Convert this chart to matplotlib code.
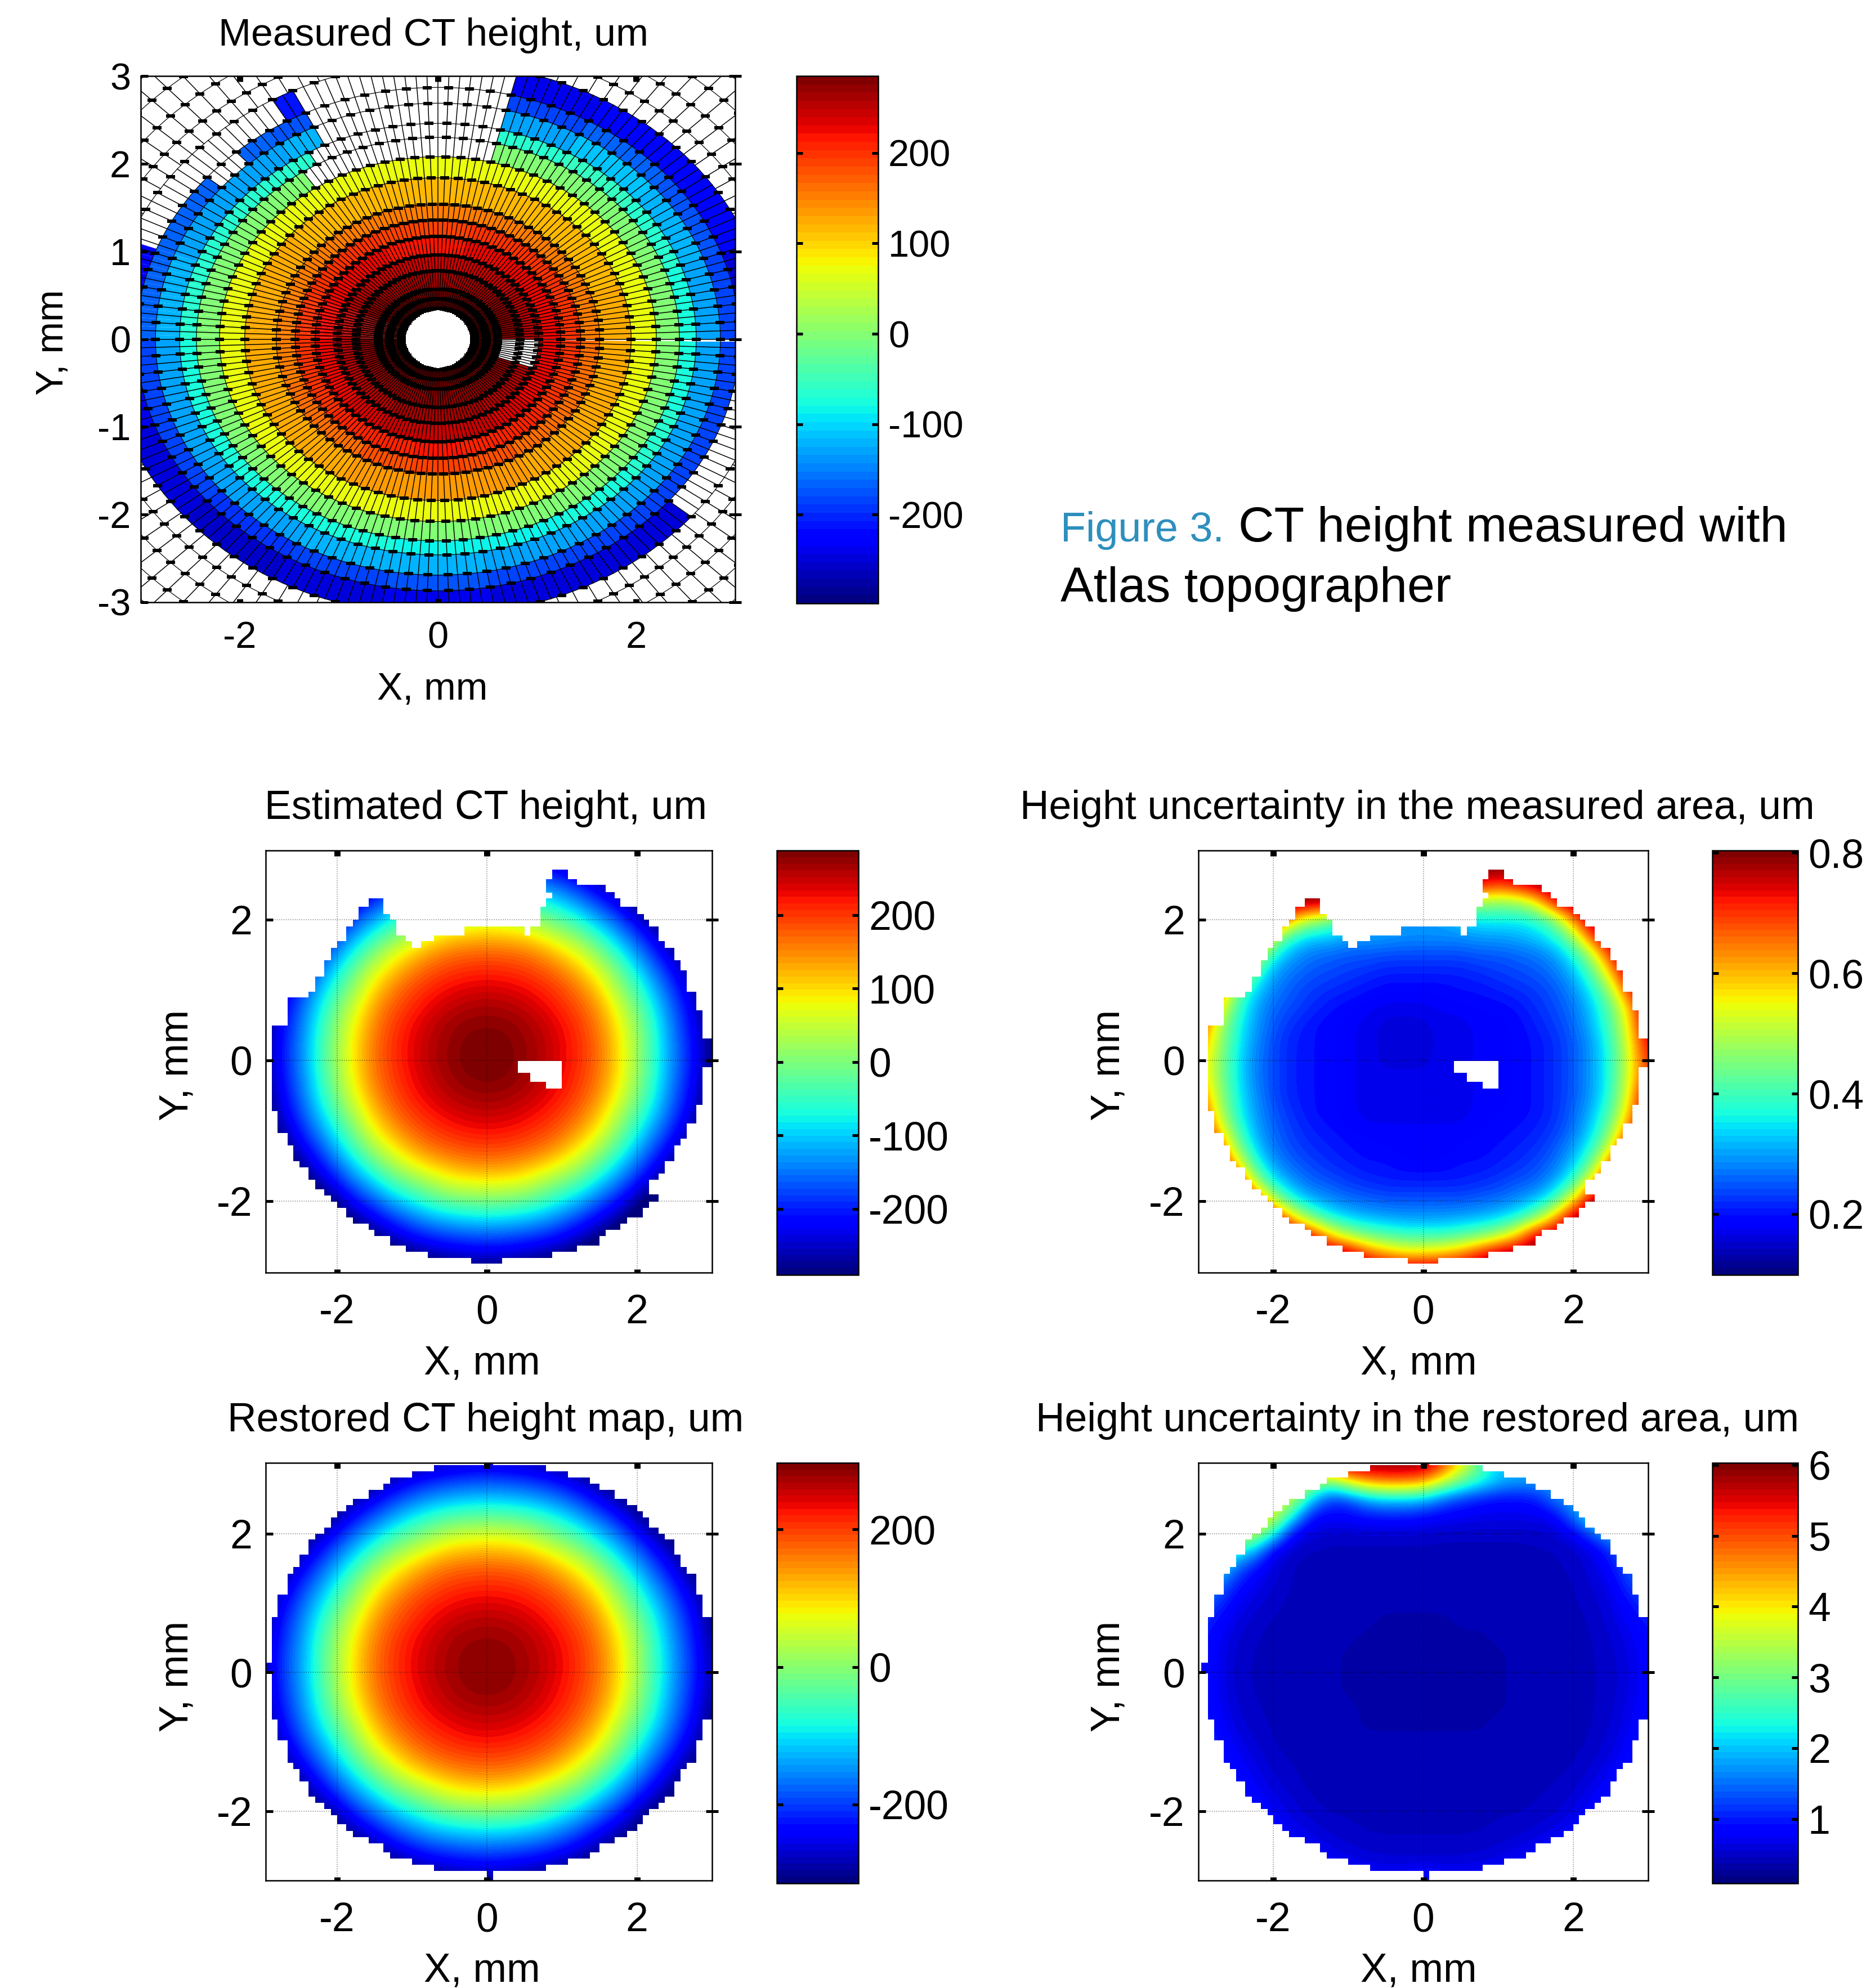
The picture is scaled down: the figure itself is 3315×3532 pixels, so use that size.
import numpy as np
import matplotlib
matplotlib.use("Agg")
import matplotlib.pyplot as plt
from matplotlib.cm import ScalarMappable
from matplotlib.colors import Normalize
from matplotlib.patches import PathPatch
from matplotlib.path import Path


# -----------------------------
# Top panel: polar mesh values, read ring by ring
# -----------------------------
RING_RADII = [0.35, 0.46, 0.57, 0.78, 0.96, 1.17, 1.36, 1.54, 1.84, 2.08,
              2.30, 2.46, 2.69, 2.87, 3.15]
OUTER_RINGS = [3.35, 3.60, 3.85, 4.10, 4.35]
SECTOR_EDGES = [0, 20, 40, 60, 76, 100, 116, 120, 124, 132, 140, 159, 180, 200,
                220, 240, 260, 280, 300, 320, 340, 359.4]
nan = float("nan")
RING_HEIGHTS = [
    [284, 278, 268, 250, 226, 197, 157, 122, 72, 0, -72, -125, -185, -245],
    [284, 278, 268, 250, 226, 195, 155, 120, 70, 0, -65, -120, -175, -225],
    [284, 278, 266, 248, 224, 195, 155, 120, 70, -5, -60, -115, -165, -225],
    [284, 278, 266, 246, 222, 195, 155, 120, 68, -5, -70, -125, -185, -235],
    [284, 278, 264, 244, 218, 190, 150, 118, 68, nan, nan, nan, nan, nan],
    [284, 278, 264, 244, 220, 192, 152, 118, 68, nan, nan, nan, nan, nan],
    [284, 278, 266, 246, 222, 194, 154, 120, 68, nan, nan, -120, -175, -215],
    [284, 278, 266, 246, 222, 194, 154, 120, 68, nan, -70, -120, -175, nan],
    [284, 278, 266, 248, 224, 195, 155, 120, 70, -5, -70, -125, -170, nan],
    [284, 278, 266, 248, 224, 195, 155, 120, 70, -5, -70, -125, nan, nan],
    [284, 278, 268, 250, 226, 197, 157, 122, 72, 0, -70, -125, -165, nan],
    [284, 278, 268, 250, 226, 197, 157, 122, 72, 0, -70, -120, -170, -225],
    [284, 278, 268, 250, 226, 197, 157, 122, 72, 0, -72, -125, -180, -235],
    [284, 280, 270, 252, 230, 200, 160, 125, 72, 0, -72, -125, -185, -250],
    [285, 280, 272, 256, 234, 205, 165, 128, 74, 0, -75, -125, -190, -255],
    [285, 282, 274, 260, 240, 212, 180, 132, 75, 0, -78, -120, -180, -245],
    [285, 282, 276, 262, 242, 214, 185, 135, 75, 0, -80, -118, -175, -240],
    [285, 282, 274, 260, 240, 212, 180, 132, 75, -2, -80, -125, -180, -245],
    [285, 280, 272, 256, 234, 205, 165, 128, 74, -2, -75, -125, -185, -250],
    [284, 280, 270, 252, 230, 200, 160, 125, 72, 0, -70, -125, -185, nan],
    [284, 280, nan, nan, 228, 198, 158, 122, 72, 0, -72, -125, -185, nan],
]

# -----------------------------
# Lower panels: values every 0.25 mm, y from 3 down to -3
# -----------------------------
# x from 0 to 3, the map is close to mirror symmetric about x = 0
HEIGHT_RIGHT_HALF = [
    [-264, -268, -277, -290, -308, -320, -320, -320, -320, -320, -320, -320, -320],
    [-189, -193, -202, -216, -239, -272, -311, -320, -320, -320, -320, -320, -320],
    [-118, -121, -131, -147, -173, -205, -249, -294, -320, -320, -320, -320, -320],
    [-33, -37, -48, -70, -100, -142, -186, -231, -294, -320, -320, -320, -320],
    [50, 45, 33, 0, -32, -69, -123, -172, -231, -294, -320, -320, -320],
    [120, 114, 104, 77, 41, -1, -54, -116, -176, -236, -301, -320, -320],
    [178, 174, 165, 143, 108, 68, 9, -58, -128, -192, -255, -319, -320],
    [214, 211, 202, 184, 157, 114, 65, -8, -80, -153, -215, -284, -320],
    [241, 238, 229, 213, 191, 155, 103, 28, -43, -117, -188, -252, -320],
    [264, 261, 250, 233, 209, 180, 135, 64, -9, -89, -168, -232, -311],
    [279, 277, 267, 249, 226, 197, 152, 87, 13, -71, -155, -220, -300],
    [287, 284, 272, 256, 232, 203, 163, 97, 22, -63, -147, -213, -293],
    [288, 285, 274, 257, 233, 204, 164, 99, 23, -61, -146, -211, -291],
    [284, 281, 268, 250, 227, 198, 158, 92, 17, -68, -151, -217, -297],
    [270, 267, 256, 239, 217, 187, 142, 75, 0, -81, -162, -227, -307],
    [250, 247, 236, 220, 198, 165, 115, 42, -30, -105, -179, -244, -320],
    [225, 222, 212, 196, 172, 132, 79, 6, -67, -139, -204, -271, -320],
    [193, 190, 179, 161, 130, 84, 30, -38, -109, -178, -239, -306, -320],
    [145, 142, 126, 102, 69, 26, -31, -94, -159, -219, -285, -320, -320],
    [76, 71, 60, 28, -5, -43, -98, -150, -209, -271, -320, -320, -320],
    [-2, -7, -18, -43, -78, -115, -164, -209, -271, -320, -320, -320, -320],
    [-87, -91, -102, -120, -149, -184, -226, -271, -320, -320, -320, -320, -320],
    [-166, -170, -179, -193, -216, -247, -289, -320, -320, -320, -320, -320, -320],
    [-236, -240, -249, -262, -282, -312, -320, -320, -320, -320, -320, -320, -320],
    [-300, -303, -312, -320, -320, -320, -320, -320, -320, -320, -320, -320, -320],
]

MEASURED_UNCERTAINTY = [
    [.8, .8, .8, .8, .8, .8, .8, .8, .8, .8, .8, .8, .8, .8, .8, .8, .8, .8, .8, .8, .8, .8, .8, .8, .8],
    [.8, .8, .8, .8, .8, .8, .8, .8, .8, .8, .8, .8, .8, .8, .8, .8, .8, .8, .8, .8, .8, .8, .8, .8, .8],
    [.8, .8, .8, .8, .8, .8, .8, .8, .6, .5, .4, .4, .4, .5, .7, .75, .7, .75, .8, .8, .8, .8, .8, .8, .8],
    [.8, .8, .8, .8, .8, .8, .8, .8, .5, .4, .33, .32, .32, .35, .5, .48, .47, .48, .55, .75, .8, .8, .8, .8, .8],
    [.8, .8, .8, .8, .8, .6, .5, .45, .36, .33, .31, .3, .3, .3, .33, .36, .36, .36, .38, .45, .65, .8, .8, .8, .8],
    [.8, .8, .8, .8, .5, .38, .33, .33, .3, .3, .3, .29, .29, .29, .29, .3, .3, .31, .33, .37, .47, .7, .8, .8, .8],
    [.8, .8, .8, .55, .37, .3, .27, .26, .25, .25, .24, .24, .24, .24, .24, .25, .25, .26, .27, .3, .37, .5, .72, .8, .8],
    [.8, .8, .6, .42, .3, .27, .25, .24, .23, .22, .21, .21, .21, .21, .21, .22, .23, .24, .25, .27, .32, .42, .6, .8, .8],
    [.8, .72, .45, .34, .28, .25, .23, .22, .21, .2, .19, .19, .19, .19, .2, .2, .21, .22, .23, .25, .29, .36, .49, .72, .8],
    [.8, .6, .41, .31, .26, .24, .22, .2, .19, .18, .17, .17, .17, .18, .18, .19, .19, .2, .22, .24, .27, .33, .43, .6, .8],
    [.72, .52, .38, .3, .25, .22, .2, .19, .18, .17, .16, .16, .16, .17, .17, .18, .18, .19, .21, .23, .26, .32, .41, .57, .8],
    [.66, .5, .37, .29, .24, .21, .2, .19, .18, .17, .16, .16, .16, .17, .17, .18, .18, .19, .2, .22, .25, .3, .39, .55, .75],
    [.62, .48, .36, .28, .24, .21, .2, .19, .18, .17, .16, .16, .16, .17, .17, .18, .18, .19, .2, .22, .25, .3, .38, .54, .72],
    [.62, .48, .36, .28, .24, .21, .2, .19, .18, .17, .17, .17, .17, .17, .17, .18, .18, .19, .2, .22, .25, .3, .38, .55, .7],
    [.68, .5, .37, .29, .24, .21, .2, .19, .18, .17, .17, .17, .17, .17, .17, .18, .18, .19, .2, .22, .25, .3, .39, .56, .8],
    [.74, .53, .38, .3, .25, .22, .2, .19, .18, .17, .17, .17, .17, .17, .17, .18, .19, .19, .2, .22, .26, .32, .42, .6, .8],
    [.8, .6, .42, .31, .26, .23, .21, .2, .19, .18, .18, .18, .18, .18, .18, .19, .19, .2, .21, .23, .27, .34, .46, .68, .8],
    [.8, .72, .48, .34, .27, .24, .22, .21, .2, .19, .19, .18, .18, .18, .19, .19, .2, .21, .22, .25, .3, .38, .54, .8, .8],
    [.8, .8, .6, .4, .3, .26, .24, .22, .21, .2, .2, .19, .19, .19, .2, .2, .21, .22, .24, .27, .33, .45, .7, .8, .8],
    [.8, .8, .78, .52, .36, .3, .26, .25, .23, .22, .21, .21, .21, .21, .21, .22, .23, .25, .26, .31, .4, .6, .8, .8, .8],
    [.8, .8, .8, .75, .52, .38, .32, .29, .27, .26, .25, .25, .25, .25, .25, .26, .27, .29, .33, .4, .58, .8, .8, .8, .8],
    [.8, .8, .8, .8, .78, .6, .46, .38, .34, .32, .31, .3, .3, .3, .31, .32, .34, .38, .46, .62, .8, .8, .8, .8, .8],
    [.8, .8, .8, .8, .8, .8, .75, .6, .5, .45, .42, .4, .4, .4, .42, .45, .5, .6, .78, .8, .8, .8, .8, .8, .8],
    [.8, .8, .8, .8, .8, .8, .8, .8, .8, .68, .62, .58, .58, .6, .64, .72, .8, .8, .8, .8, .8, .8, .8, .8, .8],
    [.8, .8, .8, .8, .8, .8, .8, .8, .8, .8, .8, .8, .8, .8, .8, .8, .8, .8, .8, .8, .8, .8, .8, .8, .8],
]

RESTORED_UNCERTAINTY = [
    [6, 6, 6, 6, 6, 6, 6, 6, 6, 6, 6, 6, 6, 5.2, 4, 2.8, 2, 2, 2, 2, 2, 2, 2, 2, 2],
    [4, 4, 4, 4, 4, 4, 3.5, 3, 4, 4.6, 4.8, 4.8, 4.6, 3.8, 3, 2.5, 2, 1.8, 1.8, 1.8, 1.8, 1.8, 1.8, 1.8, 1.8],
    [4, 4, 4, 3.8, 3.8, 3.6, 2.2, 1.2, 1.3, 1.9, 2.1, 2.1, 2, 1.5, 1.2, 1, .9, .9, 1, 1.6, 1.8, 1.8, 1.8, 1.8, 1.8],
    [4, 4, 4, 4, 3.8, 2.4, .9, .8, .85, .95, 1, 1, .9, .8, .75, .7, .7, .7, .7, .8, 1.6, 2.4, 2.4, 2.4, 2.4],
    [4, 4, 3.8, 3.6, 2.5, .8, .6, .55, .55, .55, .55, .55, .55, .5, .5, .5, .5, .5, .5, .55, .75, 1.4, 2, 2, 2],
    [3.2, 3, 2.4, 2, .7, .5, .45, .42, .42, .42, .42, .42, .42, .42, .42, .42, .42, .42, .45, .45, .5, .65, 1.1, 1.6, 1.8],
    [2.6, 2.3, 1.5, .9, .6, .45, .42, .42, .4, .4, .4, .4, .4, .4, .4, .4, .4, .42, .42, .45, .48, .6, .9, 1.4, 1.6],
    [2, 1.6, 1, .7, .55, .45, .42, .4, .4, .4, .4, .38, .38, .38, .4, .4, .4, .4, .42, .42, .45, .55, .7, 1.2, 1.5],
    [1.4, 1.2, .75, .6, .5, .42, .4, .4, .4, .38, .38, .38, .38, .38, .38, .38, .4, .4, .4, .42, .45, .5, .65, .9, 1.2],
    [1.2, .9, .65, .5, .45, .42, .4, .4, .38, .38, .36, .36, .36, .36, .38, .38, .38, .4, .4, .42, .42, .48, .6, .8, 1],
    [1, .8, .55, .48, .42, .42, .4, .38, .38, .36, .35, .35, .35, .35, .36, .36, .38, .38, .4, .4, .42, .45, .55, .7, .9],
    [1, .75, .52, .45, .42, .4, .4, .38, .36, .35, .35, .35, .35, .35, .35, .35, .36, .38, .4, .4, .42, .45, .52, .65, .85],
    [1, .75, .5, .45, .42, .4, .4, .38, .36, .35, .35, .35, .35, .35, .35, .35, .36, .38, .4, .4, .42, .45, .5, .65, .85],
    [1, .75, .52, .45, .42, .4, .4, .38, .36, .35, .35, .35, .35, .35, .35, .35, .36, .38, .4, .4, .42, .45, .5, .65, .85],
    [1, .8, .55, .48, .42, .4, .4, .38, .38, .36, .35, .35, .35, .35, .35, .36, .36, .38, .4, .4, .42, .45, .52, .7, .9],
    [1.1, .85, .6, .5, .45, .42, .4, .38, .38, .36, .36, .36, .36, .36, .36, .36, .38, .38, .4, .4, .42, .45, .55, .72, .95],
    [1.2, .95, .7, .55, .45, .42, .4, .4, .38, .38, .38, .38, .38, .38, .38, .38, .38, .4, .4, .42, .42, .48, .6, .8, 1],
    [1.2, 1, .8, .62, .5, .45, .42, .4, .4, .4, .4, .38, .38, .38, .38, .4, .4, .4, .42, .42, .45, .52, .65, .9, 1],
    [1.2, 1, .9, .7, .55, .48, .42, .42, .4, .4, .4, .4, .4, .4, .4, .4, .4, .42, .42, .45, .48, .6, .8, 1, 1],
    [1.2, 1, 1, .8, .65, .52, .45, .42, .42, .42, .42, .42, .42, .42, .42, .42, .42, .42, .45, .48, .55, .72, .9, 1, 1],
    [1.2, 1, 1, .9, .75, .6, .5, .45, .45, .42, .42, .42, .42, .42, .42, .42, .45, .45, .48, .52, .65, .85, 1, 1, 1],
    [1.2, 1, 1, 1, .85, .72, .6, .5, .48, .45, .45, .45, .45, .45, .45, .45, .48, .5, .55, .65, .8, 1, 1, 1, 1],
    [1.2, 1, 1, 1, .9, .85, .75, .65, .55, .5, .48, .48, .48, .48, .48, .5, .55, .62, .72, .85, 1, 1, 1, 1, 1],
    [1.2, 1, 1, 1, 1, .95, .9, .8, .72, .65, .6, .6, .6, .6, .6, .65, .7, .8, .9, 1, 1, 1, 1, 1, 1],
    [1.2, 1, 1, 1, 1, 1, 1, 1, .95, .9, .9, .9, 1.1, .9, .9, .9, .95, 1, 1, 1, 1, 1, 1, 1, 1],
]

# -----------------------------
# Extent of the maps, rows of (y top, y bottom, x left, x right) in mm
# -----------------------------
MEASURED_ROWS = [
    (2.71, 2.57, .87, 1.08), (2.57, 2.49, .79, 1.20), (2.49, 2.39, .79, 1.58),
    (2.39, 2.30, .87, 1.70), (2.30, 2.18, .79, 1.78), (2.30, 2.18, -1.58, -1.38),
    (2.18, 2.08, .71, 2.00), (2.18, 2.08, -1.71, -1.38), (2.08, 2.00, .71, 2.09),
    (2.08, 2.00, -1.71, -1.29), (2.00, 1.90, .71, 2.16), (2.00, 1.90, -1.79, -1.21),
    (1.90, 1.77, .58, 2.29), (1.90, 1.77, -.30, .50), (1.90, 1.77, -1.88, -1.21),
    (1.77, 1.69, -.71, 2.29), (1.77, 1.69, -1.88, -1.08), (1.69, 1.60, -.88, 2.37),
    (1.69, 1.60, -2.00, -1.00), (1.60, 1.42, -2.08, 2.50), (1.42, 1.28, -2.17, 2.58),
    (1.28, 1.19, -2.17, 2.66), (1.19, .97, -2.29, 2.66), (.97, .89, -2.38, 2.79),
    (.89, .71, -2.66, 2.79), (.71, .49, -2.66, 2.87), (.49, .31, -2.87, 2.87),
    (.31, 0, -2.87, 3.0), (0, -.09, -2.87, .41), (0, -.09, 1.0, 3.0),
    (-.09, -.18, -2.87, .41), (-.09, -.18, 1.0, 2.87), (-.18, -.31, -2.87, .58),
    (-.18, -.31, 1.0, 2.87), (-.31, -.40, -2.87, .79), (-.31, -.40, 1.0, 2.87),
    (-.40, -.62, -2.87, 2.87), (-.62, -.71, -2.87, 2.79), (-.71, -.89, -2.79, 2.79),
    (-.89, -1.02, -2.79, 2.66), (-1.02, -1.10, -2.66, 2.66), (-1.10, -1.20, -2.66, 2.58),
    (-1.20, -1.42, -2.58, 2.50), (-1.42, -1.51, -2.50, 2.37), (-1.51, -1.60, -2.38, 2.37),
    (-1.60, -1.69, -2.38, 2.29), (-1.69, -1.82, -2.29, 2.16), (-1.82, -1.91, -2.17, 2.16),
    (-1.91, -2.00, -2.08, 2.29), (-2.00, -2.09, -2.00, 2.16), (-2.09, -2.22, -1.88, 2.08),
    (-2.22, -2.31, -1.79, 1.87), (-2.31, -2.40, -1.58, 1.78), (-2.40, -2.49, -1.50, 1.58),
    (-2.49, -2.62, -1.29, 1.50), (-2.62, -2.71, -1.08, 1.20), (-2.71, -2.80, -.79, .87),
    (-2.80, -2.88, -.21, .20),
]

RESTORED_ROWS = [
    (3.05, 2.99, 0, .08), (2.99, 2.90, -.71, .79), (2.90, 2.81, -1.00, 1.08),
    (2.81, 2.72, -1.29, 1.37), (2.72, 2.63, -1.38, 1.50), (2.63, 2.50, -1.58, 1.70),
    (2.50, 2.41, -1.79, 1.87), (2.41, 2.32, -1.88, 2.00), (2.32, 2.23, -2.00, 2.08),
    (2.23, 2.09, -2.08, 2.16), (2.09, 2.00, -2.17, 2.29), (2.00, 1.92, -2.29, 2.37),
    (1.92, 1.70, -2.38, 2.50), (1.70, 1.52, -2.50, 2.58), (1.52, 1.42, -2.58, 2.66),
    (1.42, 1.12, -2.66, 2.79), (1.12, .80, -2.79, 2.87), (.80, .14, -2.87, 3.0),
    (.14, 0, -2.96, 3.0), (0, -.67, -2.87, 3.0), (-.67, -.97, -2.79, 2.87),
    (-.97, -1.29, -2.66, 2.79), (-1.29, -1.38, -2.58, 2.66), (-1.38, -1.56, -2.50, 2.58),
    (-1.56, -1.78, -2.38, 2.50), (-1.78, -1.87, -2.29, 2.37), (-1.87, -1.96, -2.17, 2.29),
    (-1.96, -2.05, -2.08, 2.16), (-2.05, -2.18, -2.00, 2.08), (-2.18, -2.27, -1.88, 2.00),
    (-2.27, -2.36, -1.79, 1.87), (-2.36, -2.45, -1.58, 1.70), (-2.45, -2.58, -1.38, 1.50),
    (-2.58, -2.67, -1.29, 1.37), (-2.67, -2.76, -1.00, 1.08), (-2.76, -2.85, -.71, .79),
    (-2.85, -3.05, 0, .08),
]

# Colour limits and colorbar ticks
MEASURED_LIMITS = (-298, 285)
ESTIMATED_LIMITS = (-290, 288)
UNCERT_LIMITS = (0.099, 0.804)
RESTORED_LIMITS = (-315, 297)
RESTORED_UNCERT_LIMITS = (0.09, 6.03)

MEASURED_CB_TICKS = [-200, -100, 0, 100, 200]
RESTORED_CB_TICKS = [-200, 0, 200]
UNCERT_CB_TICKS = [0.2, 0.4, 0.6, 0.8]
RESTORED_UNCERT_CB_TICKS = [1, 2, 3, 4, 5, 6]

# -----------------------------
# Layout in pixels of the full image
# -----------------------------
WIDTH, HEIGHT = 3315, 3532
DPI = 100
TOP_FONT = 48
LOWER_FONT = 51.5
SMOOTH_CMAP = plt.get_cmap("jet", 64)

plt.rcParams["font.family"] = ["Liberation Sans", "DejaVu Sans"]
plt.rcParams["axes.unicode_minus"] = False


def px(value):
    return value * 72 / DPI


def add_box(fig, left, top, right, bottom):
    return fig.add_axes([
        left / WIDTH,
        1 - bottom / HEIGHT,
        (right - left) / WIDTH,
        (bottom - top) / HEIGHT,
    ])


def put_text(fig, x, y, text, **kwargs):
    kwargs.setdefault("fontsize", LOWER_FONT)
    kwargs.setdefault("ha", "center")
    kwargs.setdefault("va", "center")
    return fig.text(x / WIDTH, 1 - y / HEIGHT, text, **kwargs)


def style_ticks(ax, xticks, yticks, xpad, ypad, font_size):
    ax.set_xticks(xticks)
    ax.set_yticks(yticks)
    ax.xaxis.set_ticks_position("both")
    ax.yaxis.set_ticks_position("both")
    ax.tick_params(axis="x", direction="in", length=px(6), width=px(11),
                   labelsize=font_size, pad=px(xpad))
    ax.tick_params(axis="y", direction="in", length=px(13), width=px(5),
                   labelsize=font_size, pad=px(ypad))
    for tick in ax.xaxis.get_major_ticks():
        tick.tick2line.set_markersize(px(10))
    for tick in ax.yaxis.get_major_ticks():
        tick.tick2line.set_marker("_")
        tick.tick2line.set_markersize(px(22))
        tick.tick2line.set_markeredgewidth(px(5))
    for spine in ax.spines.values():
        spine.set_linewidth(px(2.5))


def add_colorbar(fig, box, limits, ticks, font_size):
    cax = add_box(fig, *box)
    norm = Normalize(*limits)
    bar = fig.colorbar(ScalarMappable(norm=norm, cmap=SMOOTH_CMAP), cax=cax)
    bar.set_ticks(ticks)
    bar.set_ticklabels([str(t) for t in ticks])
    bar.outline.set_linewidth(px(2.5))
    cax.yaxis.set_ticks_position("both")
    cax.tick_params(axis="y", direction="in", length=px(11), width=px(5),
                    labelsize=font_size, pad=px(18), labelleft=False,
                    labelright=True)
    return bar


# -----------------------------
# Top panel
# -----------------------------
def draw_measured(fig):
    ax = add_box(fig, 250, 135, 1306, 1070)
    x_stretch = 1.06
    radii = np.array(RING_RADII)

    for i, row in enumerate(RING_HEIGHTS):
        angles = np.arange(SECTOR_EDGES[i], SECTOR_EDGES[i + 1], 2.0)
        angles = np.append(angles, SECTOR_EDGES[i + 1])
        theta = np.radians(angles)
        tt, rr = np.meshgrid(theta, radii)
        values = np.tile(np.array(row, dtype=float)[:, None], (1, len(angles) - 1))
        ax.pcolormesh(rr * np.cos(tt) * x_stretch, rr * np.sin(tt),
                      np.ma.masked_invalid(values), cmap=SMOOTH_CMAP,
                      vmin=MEASURED_LIMITS[0], vmax=MEASURED_LIMITS[1],
                      shading="flat", antialiased=True)

    inner_radii = np.array(RING_RADII)
    outer_radii = np.array(RING_RADII[-1:] + OUTER_RINGS)
    for angle in np.radians(np.arange(0, 360, 2.0)):
        ax.plot(inner_radii * np.cos(angle) * x_stretch, inner_radii * np.sin(angle),
                color="k", lw=px(1.5))
    for angle in np.radians(np.arange(0, 360, 3.0)):
        ax.plot(outer_radii * np.cos(angle) * x_stretch, outer_radii * np.sin(angle),
                color="k", lw=px(1.5))
    circle = np.radians(np.arange(0, 362, 2.0))
    for radius in RING_RADII + OUTER_RINGS:
        ax.plot(radius * np.cos(circle) * x_stretch, radius * np.sin(circle),
                color="k", lw=px(1.2))

    # short black dash on the mesh nodes
    tt, rr = np.meshgrid(np.radians(np.arange(0, 360, 4.0)), inner_radii)
    ax.plot((rr * np.cos(tt) * x_stretch).ravel(), (rr * np.sin(tt)).ravel(),
            linestyle="none", marker="_", color="k", ms=px(16), mew=px(6))
    tt, rr = np.meshgrid(np.radians(np.arange(0, 360, 3.0)), np.array(OUTER_RINGS))
    ax.plot((rr * np.cos(tt) * x_stretch).ravel(), (rr * np.sin(tt)).ravel(),
            linestyle="none", marker="_", color="k", ms=px(16), mew=px(6))

    ax.set_xlim(-3, 3)
    ax.set_ylim(-3, 3)
    style_ticks(ax, [-2, 0, 2], [-3, -2, -1, 0, 1, 2, 3], 33, 18, TOP_FONT)
    add_colorbar(fig, (1415, 135, 1560, 1072), MEASURED_LIMITS, MEASURED_CB_TICKS, TOP_FONT)

    put_text(fig, 770, 63, "Measured CT height, um", fontsize=50)
    put_text(fig, 768, 1225, "X, mm", fontsize=49)
    put_text(fig, 94, 608, "Y, mm", rotation=90, fontsize=49)


# -----------------------------
# Lower panels
# -----------------------------
def rows_to_path(rows):
    vertices = []
    codes = []
    for top, bottom, left, right in rows:
        # tiny overlap so no seam shows between rows
        bottom = bottom - 0.012
        vertices += [(left, top), (right, top), (right, bottom), (left, bottom), (left, top)]
        codes += [Path.MOVETO, Path.LINETO, Path.LINETO, Path.LINETO, Path.CLOSEPOLY]
    return Path(vertices, codes)


def draw_map(fig, box, cbar_box, grid, rows, limits, cb_ticks, xlim, ylim):
    ax = add_box(fig, *box)
    image = ax.imshow(grid, extent=(-3.125, 3.125, -3.125, 3.125), origin="upper",
                      cmap=SMOOTH_CMAP, vmin=limits[0], vmax=limits[1],
                      interpolation="bicubic", interpolation_stage="data",
                      aspect="auto", zorder=1)
    patch = PathPatch(rows_to_path(rows), transform=ax.transData, facecolor="none",
                      edgecolor="none")
    image.set_clip_path(patch)
    ax.set_xlim(*xlim)
    ax.set_ylim(*ylim)
    style_ticks(ax, [-2, 0, 2], [-2, 0, 2], 38, 24, LOWER_FONT)
    ax.grid(True, color="k", linestyle=":", linewidth=px(1.5), alpha=0.5, zorder=2)
    ax.set_axisbelow(False)
    add_colorbar(fig, cbar_box, limits, cb_ticks, LOWER_FONT)


def main():
    fig = plt.figure(figsize=(WIDTH / DPI, HEIGHT / DPI), dpi=DPI, facecolor="white")

    draw_measured(fig)

    height_right = np.array(HEIGHT_RIGHT_HALF, dtype=float)
    height_grid = np.hstack([height_right[:, :0:-1], height_right])

    draw_map(fig, (472, 1511, 1265, 2261), (1380, 1511, 1525, 2265), height_grid,
             MEASURED_ROWS, ESTIMATED_LIMITS, MEASURED_CB_TICKS, (-2.95, 3.0), (-3.02, 2.98))
    draw_map(fig, (2129, 1511, 2928, 2261), (3042, 1511, 3194, 2265),
             np.array(MEASURED_UNCERTAINTY), MEASURED_ROWS, UNCERT_LIMITS, UNCERT_CB_TICKS,
             (-3.0, 3.0), (-3.02, 2.98))
    draw_map(fig, (472, 2599, 1265, 3341), (1380, 2599, 1525, 3346), height_grid,
             RESTORED_ROWS, RESTORED_LIMITS, RESTORED_CB_TICKS, (-2.95, 3.0), (-3.0, 3.02))
    draw_map(fig, (2129, 2599, 2928, 3341), (3042, 2599, 3194, 3346),
             np.array(RESTORED_UNCERTAINTY), RESTORED_ROWS, RESTORED_UNCERT_LIMITS,
             RESTORED_UNCERT_CB_TICKS, (-3.0, 3.0), (-3.0, 3.02))

    put_text(fig, 863, 1437, "Estimated CT height, um")
    put_text(fig, 2518, 1437, "Height uncertainty in the measured area, um")
    put_text(fig, 863, 2524, "Restored CT height map, um")
    put_text(fig, 2518, 2524, "Height uncertainty in the restored area, um")
    for x in (856, 2520):
        put_text(fig, x, 2423, "X, mm")
        put_text(fig, x, 3502, "X, mm")
    for x in (315, 1970):
        put_text(fig, x, 1892, "Y, mm", rotation=90)
        put_text(fig, x, 2978, "Y, mm", rotation=90)

    # Caption
    put_text(fig, 1884, 962, "Figure 3.", ha="left", va="baseline", fontsize=53, color="#2E8FBD")
    put_text(fig, 2200, 962, "CT height measured with", ha="left", va="baseline", fontsize=63.3)
    put_text(fig, 1884, 1069, "Atlas topographer", ha="left", va="baseline", fontsize=63.3)

    fig.savefig("out.png", dpi=DPI, facecolor="white")
    plt.close(fig)


if __name__ == "__main__":
    main()
